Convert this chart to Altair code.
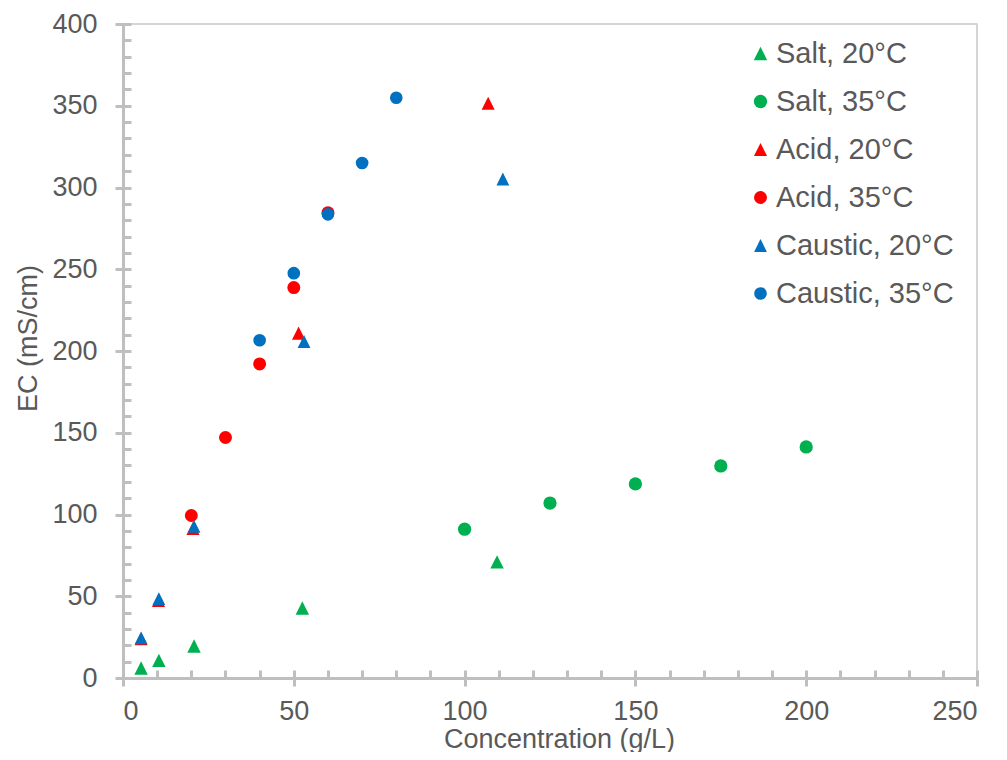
import altair as alt
import pandas as pd

TRI = "M0,-1L1,1L-1,1Z"
series_names = ["Salt, 20°C", "Salt, 35°C", "Acid, 20°C", "Acid, 35°C", "Caustic, 20°C", "Caustic, 35°C"]
series_colors = ["#00B050", "#00B050", "#FF0000", "#FF0000", "#0070C0", "#0070C0"]
series_shapes = [TRI, "circle", TRI, "circle", TRI, "circle"]
series_sizes = [180, 160, 180, 160, 180, 160]

salt20_x = [5.3, 10.5, 20.8, 52.5, 109.5]
salt20_y = [6.1, 10.8, 19.6, 42.8, 71.0]
salt35_x = [100, 125, 150, 175, 200]
salt35_y = [91.0, 107.0, 118.7, 129.7, 141.3]
acid20_x = [5.3, 10.4, 20.5, 51.4, 106.9]
acid20_y = [24.0, 47.5, 91.5, 210.9, 351.5]
acid35_x = [20, 30, 40, 50, 60]
acid35_y = [99.4, 147.1, 192.1, 238.8, 284.6]
caustic20_x = [5.3, 10.5, 20.8, 53.0, 111.2]
caustic20_y = [24.5, 48.6, 92.7, 205.8, 305.2]
caustic35_x = [40, 50, 60, 70, 80]
caustic35_y = [206.6, 247.6, 283.6, 315.0, 354.9]

x_major = [0, 50, 100, 150, 200, 250]
y_major = [0, 50, 100, 150, 200, 250, 300, 350, 400]
x_minor = list(range(0, 251, 10))
y_minor = list(range(0, 401, 10))

all_x = [salt20_x, salt35_x, acid20_x, acid35_x, caustic20_x, caustic35_x]
all_y = [salt20_y, salt35_y, acid20_y, acid35_y, caustic20_y, caustic35_y]
rows = []
for name, xs, ys in zip(series_names, all_x, all_y):
    for xv, yv in zip(xs, ys):
        rows.append({"series": name, "x": xv, "y": yv})
df = pd.DataFrame(rows)

FONT = "Liberation Sans"
TXT = "#595959"
AX = "#BFBFBF"

xscale = alt.Scale(domain=[0, 250], nice=False, zero=False)
yscale = alt.Scale(domain=[0, 400], nice=False, zero=False)

legend_kw = dict(title=None, orient="none", legendX=623, legendY=15,
                 labelFont=FONT, labelFontSize=29, labelColor=TXT,
                 symbolSize=170, symbolStrokeWidth=0, labelOffset=1,
                 rowPadding=18, padding=0, labelLimit=400)

points = alt.Chart(df).mark_point(filled=True, opacity=1, strokeWidth=0).encode(
    x=alt.X("x:Q", scale=xscale, axis=alt.Axis(
        orient="bottom", values=x_major, domain=True, domainColor=AX, domainWidth=3,
        ticks=True, tickColor=AX, tickWidth=3, tickSize=8, grid=False,
        labelFont=FONT, labelFontSize=27, labelColor=TXT, labelPadding=12,
        title="Concentration (g/L)", titleFont=FONT, titleFontSize=27, titleColor=TXT,
        titleFontWeight="normal", titleX=436, titleY=61, titleBaseline="middle", titleAlign="center")),
    y=alt.Y("y:Q", scale=yscale, axis=alt.Axis(
        orient="left", values=y_major, domain=True, domainColor=AX, domainWidth=3,
        ticks=True, tickColor=AX, tickWidth=3, tickSize=8, grid=False,
        labelFont=FONT, labelFontSize=27, labelColor=TXT, labelPadding=18,
        title="EC  (mS/cm)", titleFont=FONT, titleFontSize=27, titleColor=TXT,
        titleFontWeight="normal", titleX=-95, titleY=314, titleBaseline="middle", titleAlign="center")),
    color=alt.Color("series:N", scale=alt.Scale(domain=series_names, range=series_colors),
                    sort=series_names, legend=alt.Legend(**legend_kw)),
    shape=alt.Shape("series:N", scale=alt.Scale(domain=series_names, range=series_shapes),
                    sort=series_names, legend=alt.Legend(**legend_kw)),
    size=alt.Size("series:N", scale=alt.Scale(domain=series_names, range=series_sizes),
                  sort=series_names, legend=None),
)

minor = alt.Chart(df).mark_point(opacity=0).encode(
    x=alt.X("x:Q", scale=xscale, axis=alt.Axis(
        orient="bottom", values=x_minor, domain=False, ticks=True, tickColor=AX, tickWidth=3,
        tickSize=8, offset=-8, labels=False, grid=False, title=None)),
    y=alt.Y("y:Q", scale=yscale, axis=alt.Axis(
        orient="left", values=y_minor, domain=False, ticks=True, tickColor=AX, tickWidth=3,
        tickSize=8, offset=-8, labels=False, grid=False, title=None)),
)

chart = alt.layer(minor, points).resolve_axis(x="independent", y="independent").properties(
    width=854, height=654,
    autosize=alt.AutoSizeParams(type="none"),
    padding={"left": 115, "top": 16, "right": 22, "bottom": 74},
    background="white",
).configure_view(stroke="#C8C8C8", strokeWidth=1.5)

chart.save("out.html", embed_options={"renderer": "svg", "actions": False})
